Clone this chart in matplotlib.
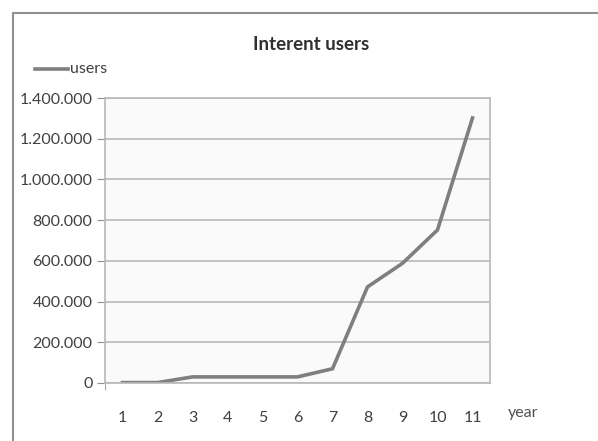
import matplotlib.pyplot as plt
from matplotlib.lines import Line2D
from matplotlib.ticker import FuncFormatter

years = [1, 2, 3, 4, 5, 6, 7, 8, 9, 10, 11]
users = [2000, 2000, 30000, 30000, 30000, 30000, 70000, 472000, 588000, 752000, 1302000]
y_ticks = [0, 200000, 400000, 600000, 800000, 1000000, 1200000, 1400000]

plt.rcParams['font.family'] = ['Lato', 'DejaVu Sans']

W, H = 598, 441
fig = plt.figure(figsize=(W / 100, H / 100), dpi=100)
ax = fig.add_axes([105 / W, 1 - 383 / H, (490 - 105) / W, (383 - 98) / H])
ax.set_facecolor('#fafafa')

ax.plot(years, users, color='#7f7f7f', lw=2.6, solid_joinstyle='miter')

ax.set_xlim(0.5, 11.5)
ax.set_ylim(0, 1400000)
ax.set_xticks(years)
ax.set_xticks([0.5], minor=True)
ax.set_yticks(y_ticks)
ax.yaxis.set_major_formatter(FuncFormatter(lambda v, p: f'{int(v):,}'.replace(',', '.')))
ax.grid(axis='y', color='#b8b8b8', lw=1.2)
ax.set_axisbelow(True)
for s in ax.spines.values():
    s.set_color('#b8b8b8')
    s.set_linewidth(1.2)
ax.tick_params(axis='y', length=6, color='#909090', labelsize=11.5, labelcolor='#404040', pad=3)
ax.tick_params(axis='x', which='major', length=0, labelsize=11.5, labelcolor='#404040', pad=20)
ax.tick_params(axis='x', which='minor', length=5, color='#909090')

fig.text(311 / W, 1 - 45 / H, 'Interent users', ha='center', va='center',
         fontsize=13.5, fontweight='bold', color='#303030')
fig.text(508 / W, 1 - 413 / H, 'year', ha='left', va='center', fontsize=11.5, color='#505050')

# legend
fig.add_artist(Line2D([35 / W, 68 / W], [1 - 69 / H, 1 - 69 / H], color='#7f7f7f', lw=2.6))
fig.text(70 / W, 1 - 69 / H, 'users', ha='left', va='center', fontsize=11.5, color='#404040')

# outer chart border
fig.add_artist(Line2D([13 / W, 13 / W, 1], [0, 1 - 13 / H, 1 - 13 / H], color='#909090', lw=1.5))

fig.savefig('out.png', dpi=100)
